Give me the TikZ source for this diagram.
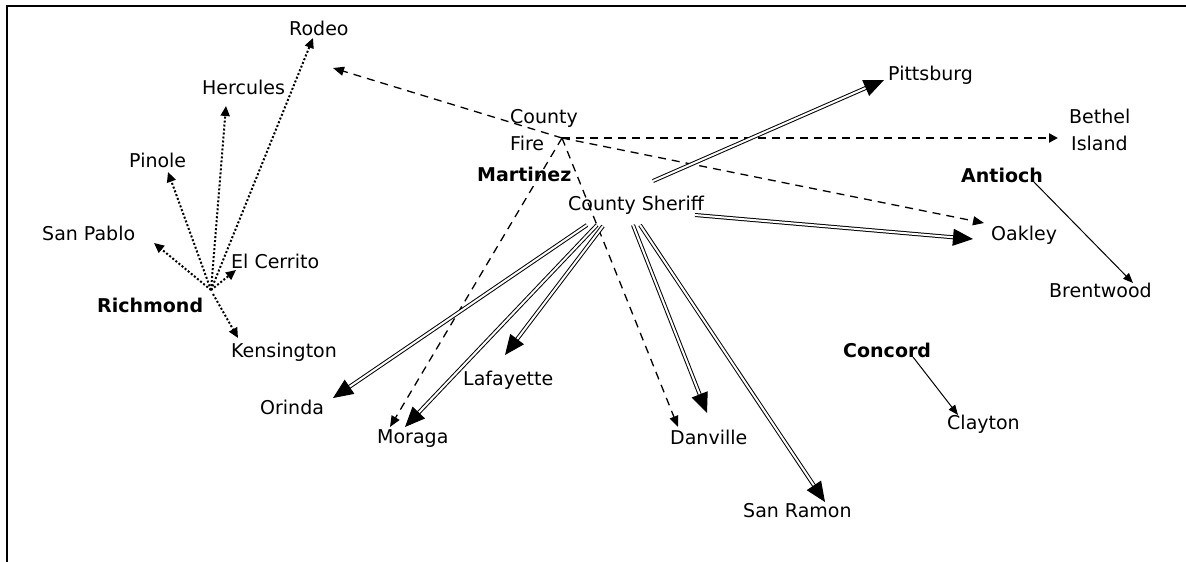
\documentclass[tikz,border=0pt]{standalone}
\usepackage{fontspec}
\setmainfont{DejaVu Sans}
\usetikzlibrary{arrows.meta,calc}
\begin{document}
\begin{tikzpicture}[x=1pt,y=-1pt,
  lbl/.style={anchor=base west,inner sep=0pt,font=\fontsize{19}{22}\selectfont},
  blbl/.style={anchor=base west,inner sep=0pt,font=\fontsize{19}{22}\selectfont\bfseries},
  dotarrow/.style={line width=2pt,dash pattern=on 2pt off 2pt,-{Triangle[length=10pt,width=9pt]}},
  dasharrow/.style={line width=1.3pt,dash pattern=on 8pt off 6pt,-{Triangle[length=11pt,width=9pt]}},
  thickdash/.style={line width=2.8pt,dash pattern=on 8pt off 6pt,-{Triangle[length=9pt,width=9pt]}},
  dblline/.style={double,line width=1pt,double distance=2pt,shorten >=16pt},
  bigtip/.style={line width=1pt,-{Triangle[length=20pt,width=17pt]}},
  thinarrow/.style={line width=1pt,-{Triangle[length=10pt,width=8pt]}},
  frameline/.style={line width=2pt,line cap=rect}]
\useasboundingbox (0,0) rectangle (1186,562);
\draw[frameline] (7,562) -- (7,6) -- (1186,6);

% labels
\node[lbl] (rodeo) at (289,35) {Rodeo};
\node[lbl] (hercules) at (202,94) {Hercules};
\node[lbl] (pinole) at (129,167) {Pinole};
\node[lbl] (sanpablo) at (42,240) {San Pablo};
\node[lbl] (elcerrito) at (231,268) {El Cerrito};
\node[blbl] (richmond) at (97,312) {Richmond};
\node[lbl] (kensington) at (231,357) {Kensington};
\node[lbl] (orinda) at (260,414) {Orinda};
\node[lbl] (moraga) at (377,443) {Moraga};
\node[lbl] (lafayette) at (463,385) {Lafayette};
\node[lbl] (county) at (510,123) {County};
\node[lbl] (fire) at (510,150) {Fire};
\node[blbl] (martinez) at (477,181) {Martinez};
\node[lbl] (sheriff) at (568,210) {County Sheriff};
\node[lbl] (pittsburg) at (888,80) {Pittsburg};
\node[lbl] (bethel) at (1069,123) {Bethel};
\node[lbl] (island) at (1071,150) {Island};
\node[blbl] (antioch) at (961,182) {Antioch};
\node[lbl] (oakley) at (991,240) {Oakley};
\node[lbl] (brentwood) at (1049,297) {Brentwood};
\node[blbl] (concord) at (843,357) {Concord};
\node[lbl] (clayton) at (947,429) {Clayton};
\node[lbl] (danville) at (670,444) {Danville};
\node[lbl] (sanramon) at (743,517) {San Ramon};

% hubs and tips
\coordinate (rh) at (211,290);
\coordinate (rh2) at (213,294);
\coordinate (fh) at (562,138);
\coordinate (tRodeoDot) at (313,38);
\coordinate (tHerc) at (226,106);
\coordinate (tPin) at (168,172);
\coordinate (tSP) at (154,243);
\coordinate (tElC) at (236,270);
\coordinate (tKen) at (238,338);
\coordinate (tRodeoDash) at (333,68);
\coordinate (tBethel) at (1058,138);
\coordinate (tOakDash) at (984,223);
\coordinate (tMorDash) at (390,427);
\coordinate (tDanDash) at (678,427);

% Richmond dotted
\draw[dotarrow] (rh) -- (tRodeoDot);
\draw[dotarrow] (rh) -- (tHerc);
\draw[dotarrow] (rh) -- (tPin);
\draw[dotarrow] (rh) -- (tSP);
\draw[dotarrow] (rh) -- (tElC);
\draw[dotarrow] (rh2) -- (tKen);

% County Fire dashed
\draw[dasharrow] (fh) -- (tRodeoDash);
\draw[thickdash] (fh) -- (tBethel);
\draw[dasharrow] (fh) -- (tOakDash);
\draw[dasharrow] (fh) -- (tMorDash);
\draw[dasharrow] (fh) -- (tDanDash);

% County Sheriff double arrows
\coordinate (sPit) at (653,181);  \coordinate (tPit) at (884,80);
\coordinate (sOak) at (695,215);  \coordinate (tOak) at (973,239);
\coordinate (sOri) at (587,225);  \coordinate (tOri) at (333,398);
\coordinate (sMor) at (597,225);  \coordinate (tMor) at (405,427);
\coordinate (sLaf) at (603,226);  \coordinate (tLaf) at (505,355);
\coordinate (sDan) at (633,225);  \coordinate (tDan) at (707,413);
\coordinate (sSR) at (640,225);   \coordinate (tSR) at (825,502);
\foreach \s/\t in {sPit/tPit,sOak/tOak,sOri/tOri,sMor/tMor,sLaf/tLaf,sDan/tDan,sSR/tSR}{
  \draw[dblline] (\s) -- (\t);
  \draw[bigtip] ($(\t)!19pt!(\s)$) -- (\t);
}

% solid thin
\coordinate (sAnt) at (1032,180); \coordinate (tBrent) at (1133,283);
\coordinate (sCon) at (913,357);  \coordinate (tClay) at (958,415);
\draw[thinarrow] (sAnt) -- (tBrent);
\draw[thinarrow] (sCon) -- (tClay);
\end{tikzpicture}
\end{document}
